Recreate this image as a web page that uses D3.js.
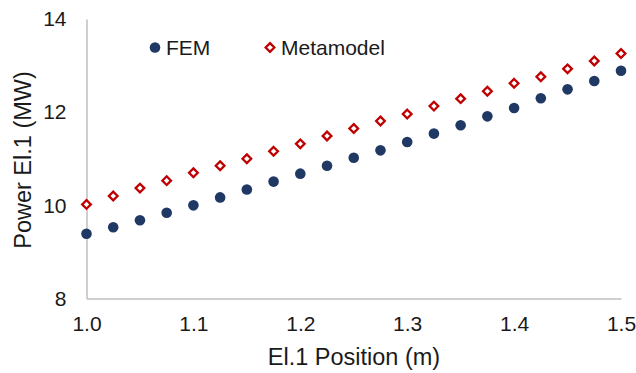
<!DOCTYPE html>
<html><head><meta charset="utf-8">
<script src="https://cdn.jsdelivr.net/npm/d3@7"></script>
<style>body{margin:0;background:#fff}svg{display:block}text{font-family:"Liberation Sans",Arial,sans-serif;fill:#1a1a1a}</style>
</head><body><svg id="c" width="636" height="373"></svg>
<script>
const positions = [1.0,1.025,1.05,1.075,1.1,1.125,1.15,1.175,1.2,1.225,1.25,1.275,1.3,1.325,1.35,1.375,1.4,1.425,1.45,1.475,1.5];
const femValues = [9.39,9.53,9.68,9.84,10.0,10.17,10.34,10.51,10.68,10.85,11.02,11.18,11.36,11.54,11.72,11.91,12.09,12.30,12.49,12.67,12.89];
const metaValues = [10.02,10.20,10.37,10.53,10.70,10.85,11.00,11.16,11.32,11.49,11.65,11.81,11.96,12.13,12.29,12.45,12.62,12.76,12.93,13.10,13.26];
const xTicks = [1.0,1.1,1.2,1.3,1.4,1.5];
const yTicks = [8,10,12,14];
const seriesNames = ["FEM","Metamodel"];

const svg = d3.select("#c");
const x = d3.scaleLinear().domain([1.0,1.5]).range([86.5,621]);
const y = d3.scaleLinear().domain([8,14]).range([298.5,19]);
const axisColor = "#BFBFBF";
const textColor = "#1a1a1a";

const xa = svg.append("g").attr("transform","translate(0,298.5)")
  .call(d3.axisBottom(x).tickValues(xTicks).tickFormat(d3.format(".1f")).tickSize(0).tickPadding(18));
xa.select(".domain").attr("stroke",axisColor).attr("stroke-width",1.5);
xa.selectAll("text").attr("font-size",21).attr("fill",textColor).style("font-family","Liberation Sans, Arial, sans-serif");

const ya = svg.append("g").attr("transform","translate(86.5,0)")
  .call(d3.axisLeft(y).tickValues(yTicks).tickFormat(d3.format("d")).tickSize(0).tickPadding(20));
ya.select(".domain").attr("stroke",axisColor).attr("stroke-width",1.5);
ya.selectAll("text").attr("font-size",21).attr("fill",textColor).style("font-family","Liberation Sans, Arial, sans-serif");

svg.append("text").attr("x",354).attr("y",365).attr("text-anchor","middle").attr("font-size",23.5).text("El.1 Position (m)");
svg.append("text").attr("transform","translate(31,160) rotate(-90)").attr("text-anchor","middle").attr("font-size",23.5).text("Power El.1 (MW)");

const femColor = "#1F3864", metaColor = "#C00000";
svg.append("g").selectAll("circle").data(positions).join("circle")
  .attr("cx",(d)=>x(d)).attr("cy",(d,i)=>y(femValues[i])).attr("r",5.3).attr("fill",femColor);

const diamond = d3.symbol().type(d3.symbolDiamond2).size(48);
svg.append("g").selectAll("path").data(positions).join("path")
  .attr("transform",(d,i)=>`translate(${x(d)},${y(metaValues[i])})`)
  .attr("d",diamond).attr("fill","#fff").attr("stroke",metaColor).attr("stroke-width",2.3);

// legend
const lg = svg.append("g");
lg.append("circle").attr("cx",155).attr("cy",47.5).attr("r",5.3).attr("fill",femColor);
lg.append("text").attr("x",166).attr("y",55).attr("font-size",21).text(seriesNames[0]);
lg.append("path").attr("transform","translate(270,47.5)").attr("d",diamond).attr("fill","#fff").attr("stroke",metaColor).attr("stroke-width",2.3);
lg.append("text").attr("x",281).attr("y",55).attr("font-size",21).text(seriesNames[1]);
</script></body></html>
